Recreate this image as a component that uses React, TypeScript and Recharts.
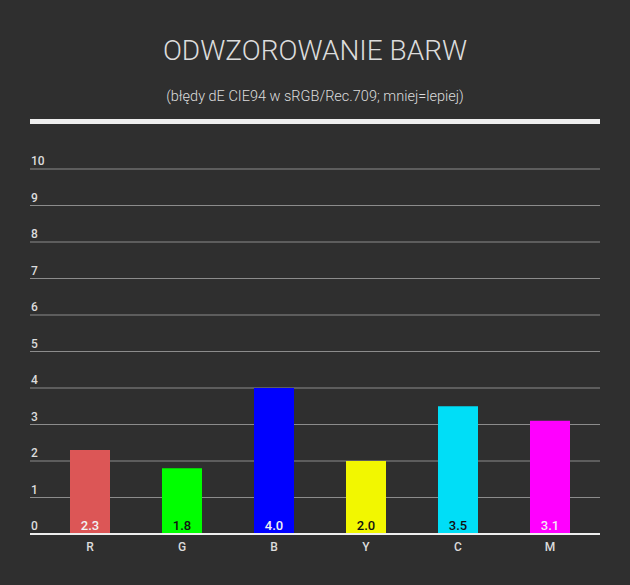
import React from "react";
import {
  BarChart,
  Bar,
  XAxis,
  YAxis,
  CartesianGrid,
  Cell,
  LabelList,
} from "recharts";

// Colour channels measured (dE CIE94 errors)
const channels: string[] = ["R", "G", "B", "Y", "C", "M"];
const errors: number[] = [2.3, 1.8, 4.0, 2.0, 3.5, 3.1];
const barColors: string[] = ["#dc5656", "#00ff00", "#0000ff", "#f2f700", "#00def7", "#ff00ff"];
const labelColors: string[] = ["#f2f2f2", "#111111", "#f2f2f2", "#111111", "#111111", "#f5e6f5"];
const yTicks: number[] = [0, 1, 2, 3, 4, 5, 6, 7, 8, 9, 10];

const data = channels.map((name, i) => ({ name, value: errors[i] }));

const BG = "#2f2f2f";
const TEXT = "#dcdcdc";

// y-axis labels sit above the grid line, left aligned
const renderYTick = (props: any) => {
  const { x, y, payload } = props;
  return (
    <text x={x} y={y - 4} fill={TEXT} fontSize={12} fontWeight={500} textAnchor="start">
      {payload.value}
    </text>
  );
};

// value label inside the bottom of each bar
const ValueLabel = (props: any) => {
  const { x, y, width, height, value, index } = props;
  return (
    <text
      x={x + width / 2}
      y={y + height - 4}
      fill={labelColors[index]}
      fontSize={13}
      fontWeight={500}
      textAnchor="middle"
    >
      {Number(value).toFixed(1)}
    </text>
  );
};

const App: React.FC = () => {
  return (
    <div
      style={{
        position: "fixed",
        top: 0,
        left: 0,
        width: 630,
        height: 585,
        background: BG,
        fontFamily: "Roboto, sans-serif",
      }}
    >
      <div
        style={{
          position: "absolute",
          top: 34,
          width: 630,
          textAlign: "center",
          color: TEXT,
          fontSize: 28,
          fontWeight: 300,
        }}
      >
        ODWZOROWANIE BARW
      </div>
      <div
        style={{
          position: "absolute",
          top: 88,
          width: 630,
          textAlign: "center",
          color: TEXT,
          fontSize: 14.5,
          fontWeight: 300,
        }}
      >
        (błędy dE CIE94 w sRGB/Rec.709; mniej=lepiej)
      </div>
      <div
        style={{
          position: "absolute",
          top: 119,
          left: 30,
          width: 570,
          height: 5,
          background: "#eeeeee",
        }}
      />
      <div style={{ position: "absolute", top: 0, left: 0 }}>
        <BarChart
          width={630}
          height={585}
          data={data}
          margin={{ top: 169, right: 30, left: 20, bottom: 21 }}
        >
          <CartesianGrid vertical={false} stroke="#8c8c8c" strokeWidth={1} />
          <XAxis
            dataKey="name"
            height={30}
            axisLine={{ stroke: "#eeeeee", strokeWidth: 2 }}
            tickLine={false}
            tick={{ fill: TEXT, fontSize: 12, fontWeight: 500 }}
            padding={{ left: 14, right: 4 }}
            tickMargin={2}
          />
          <YAxis
            width={10}
            domain={[0, 10]}
            ticks={yTicks}
            axisLine={false}
            tickLine={false}
            tickSize={0}
            tickMargin={-1}
            tick={renderYTick}
          />
          <Bar dataKey="value" barSize={40} isAnimationActive={false}>
            {data.map((d, i) => (
              <Cell key={d.name} fill={barColors[i]} />
            ))}
            <LabelList dataKey="value" content={<ValueLabel />} />
          </Bar>
        </BarChart>
      </div>
    </div>
  );
};

export default App;
